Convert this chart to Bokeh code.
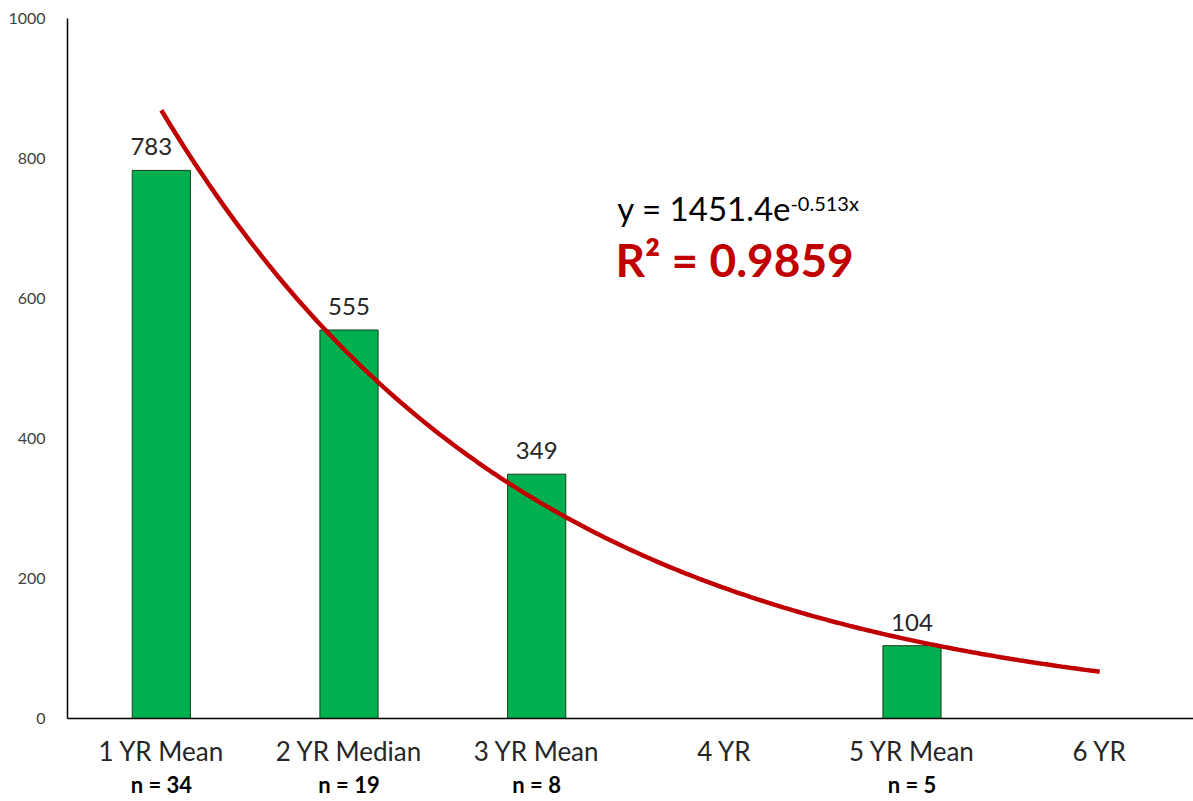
import numpy as np
from bokeh.plotting import figure
from bokeh.models import (ColumnDataSource, LinearAxis, FixedTicker, Label, Range1d)
from bokeh.embed import file_html
from bokeh.resources import INLINE

# Categories along the x axis (positions 1..6)
categories = ["1 YR Mean", "2 YR Median", "3 YR Mean", "4 YR", "5 YR Mean", "6 YR"]
sample_sizes = ["n = 34", "n = 19", "n = 8", "", "n = 5", ""]

# Measured values (4 YR and 6 YR have none)
bar_positions = [1, 2, 3, 5]
bar_values = [783, 555, 349, 104]

# Exponential trendline y = a * exp(b * x)
trend_a = 1451.4
trend_b = -0.513
r_squared = 0.9859

FONT = "Lato"
GREEN = "#00b050"
RED = "#c00000"
TEXT = "#262626"
TICK = "#404040"

p = figure(width=1193, height=801, output_backend="svg", toolbar_location=None,
           x_range=Range1d(0.5, 6.5), y_range=Range1d(0, 1000),
           x_axis_type=None, y_axis_type=None,
           min_border_left=67, min_border_right=0, min_border_top=18,
           min_border_bottom=83)
p.outline_line_color = None
p.grid.visible = False
p.background_fill_color = "white"
p.border_fill_color = "white"

# y axis
yaxis = LinearAxis(ticker=FixedTicker(ticks=[0, 200, 400, 600, 800, 1000]))
yaxis.axis_line_color = "black"
yaxis.axis_line_width = 1.5
yaxis.major_tick_line_color = None
yaxis.minor_tick_line_color = None
yaxis.major_label_text_font = FONT
yaxis.major_label_text_font_size = "16px"
yaxis.major_label_text_color = TICK
yaxis.major_label_standoff = 16
p.add_layout(yaxis, "left")

# x axis with category names
xaxis = LinearAxis(ticker=FixedTicker(ticks=list(range(1, 7))))
xaxis.major_label_overrides = {i + 1: c for i, c in enumerate(categories)}
xaxis.axis_line_color = "black"
xaxis.axis_line_width = 1.5
xaxis.major_tick_line_color = None
xaxis.minor_tick_line_color = None
xaxis.major_label_text_font = FONT
xaxis.major_label_text_font_size = "26px"
xaxis.major_label_text_color = TEXT
xaxis.major_label_standoff = 10
p.add_layout(xaxis, "below")

# second row of x labels: sample sizes in bold
naxis = LinearAxis(ticker=FixedTicker(ticks=[i + 1 for i, s in enumerate(sample_sizes) if s]))
naxis.major_label_overrides = {i + 1: s for i, s in enumerate(sample_sizes) if s}
naxis.axis_line_color = None
naxis.major_tick_line_color = None
naxis.minor_tick_line_color = None
naxis.major_label_text_font = FONT
naxis.major_label_text_font_size = "22px"
naxis.major_label_text_font_style = "bold"
naxis.major_label_text_color = "black"
naxis.major_label_standoff = -5
p.add_layout(naxis, "below")

# bars
src = ColumnDataSource(dict(x=bar_positions, top=bar_values,
                            label=[str(v) for v in bar_values],
                            nudge=[-10, 0, 0, 0]))
p.vbar(x="x", top="top", bottom=0, width=0.31, source=src,
       fill_color=GREEN, line_color="#1a3d1a", line_width=1)

# value labels above bars (first one nudged left, clear of the trendline)
p.text(x="x", y="top", text="label", source=src, text_align="center",
       text_baseline="bottom", x_offset="nudge", y_offset=-15,
       text_font_size="24px", text_color=TEXT, text_font={"value": FONT})

# trendline
tx = np.linspace(1, 6, 200)
ty = trend_a * np.exp(trend_b * tx)
p.line(tx, ty, line_color=RED, line_width=4.5)

# trendline equation
p.add_layout(Label(x=3.43, y=730, text="y = 1451.4e", text_font=FONT,
                   text_font_size="33px", text_color="black",
                   text_baseline="alphabetic"))
p.add_layout(Label(x=4.352, y=737, text=f"{trend_b}x", text_font=FONT,
                   text_font_size="20px", text_color="black",
                   text_baseline="alphabetic"))
p.add_layout(Label(x=3.42, y=656, text=f"R\u00b2 = {r_squared}", text_font=FONT,
                   text_font_size="46px", text_font_style="bold", text_color=RED,
                   text_baseline="alphabetic"))

open("out.html", "w").write(file_html(p, INLINE))
